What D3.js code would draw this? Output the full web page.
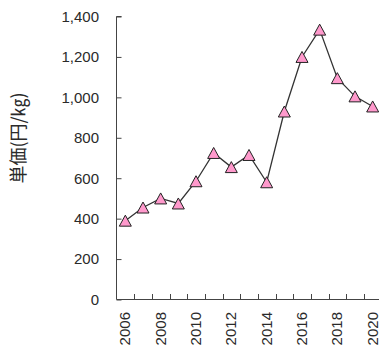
<!DOCTYPE html>
<html>
<head>
<meta charset="utf-8">
<script src="https://cdn.jsdelivr.net/npm/d3@7"></script>
<style>
  html, body { margin: 0; padding: 0; background: #fff; }
  svg { display: block; }
</style>
</head>
<body>
<svg id="chart" width="379" height="354"></svg>
<script>
// Annual unit price (yen per kg)
const years = [2006, 2007, 2008, 2009, 2010, 2011, 2012, 2013, 2014, 2015, 2016, 2017, 2018, 2019, 2020];
const prices = [390, 455, 500, 475, 585, 725, 655, 715, 580, 930, 1200, 1335, 1095, 1005, 955];
const yTicks = [0, 200, 400, 600, 800, 1000, 1200, 1400];
const xLabelYears = [2006, 2008, 2010, 2012, 2014, 2016, 2018, 2020];
const yTitle = "単価(円/㎏)";

const svg = d3.select("#chart");
const numFont = "'Liberation Sans', Arial, sans-serif";
const axisColor = "#444";
const textColor = "#2a2a2a";

const x = d3.scaleBand().domain(years).range([116.5, 381.5]).paddingInner(0).paddingOuter(0);
const y = d3.scaleLinear().domain([0, 1400]).range([299.5, 16.5]);

// Y axis: ticks point inward
const yAxis = svg.append("g")
  .attr("transform", "translate(116.5,0)")
  .call(d3.axisRight(y).tickValues(yTicks).tickSize(5).tickFormat(""));
yAxis.select(".domain").attr("d", `M5,${y(1400)}H0V${y(0)}`);
yAxis.selectAll("line, path").attr("stroke", axisColor).attr("stroke-width", 1);

svg.append("g").selectAll("text").data(yTicks).join("text")
  .attr("x", 99)
  .attr("y", d => y(d))
  .attr("dy", "0.36em")
  .attr("text-anchor", "end")
  .attr("font-family", numFont)
  .attr("font-size", 15)
  .attr("fill", textColor)
  .text(d => d3.format(",")(d));

// X axis: ticks at band boundaries, pointing up
const bounds = years.map(d => x(d) + x.bandwidth());
svg.append("path")
  .attr("d", `M${x.range()[0]},299.5H${x.range()[1]}`)
  .attr("stroke", axisColor).attr("fill", "none");
svg.append("g").selectAll("line").data(bounds).join("line")
  .attr("x1", d => Math.round(d) + 0.5).attr("x2", d => Math.round(d) + 0.5)
  .attr("y1", 299.5).attr("y2", 294)
  .attr("stroke", axisColor);

svg.append("g").selectAll("text").data(xLabelYears).join("text")
  .attr("transform", d => `translate(${x(d) + x.bandwidth() / 2 - 0.5},312) rotate(-90)`)
  .attr("dy", "0.36em")
  .attr("text-anchor", "end")
  .attr("font-family", numFont)
  .attr("font-size", 15)
  .attr("fill", textColor)
  .text(d => d);

// Y axis title
svg.append("text")
  .attr("transform", "translate(19,138) rotate(-90)")
  .attr("dy", "0.36em")
  .attr("text-anchor", "middle")
  .attr("font-family", "'Noto Sans CJK JP', sans-serif")
  .attr("font-size", 18)
  .attr("fill", textColor)
  .text(yTitle);

// Price line
const cx = i => x(years[i]) + x.bandwidth() / 2;
const line = d3.line()
  .x((d, i) => cx(i))
  .y(d => y(d));
svg.append("path")
  .datum(prices)
  .attr("d", line)
  .attr("fill", "none")
  .attr("stroke", "#333")
  .attr("stroke-width", 1.3);

// Triangle markers, centred on their bounding box
const triW = 12, triH = 11;
const triPath = `M0,${-triH / 2}L${triW / 2},${triH / 2}L${-triW / 2},${triH / 2}Z`;
svg.append("g").selectAll("path").data(prices).join("path")
  .attr("transform", (d, i) => `translate(${cx(i)},${y(d)})`)
  .attr("d", triPath)
  .attr("fill", "#FF99CC")
  .attr("stroke", "#222")
  .attr("stroke-width", 1)
  .attr("stroke-linejoin", "miter");
</script>
</body>
</html>
